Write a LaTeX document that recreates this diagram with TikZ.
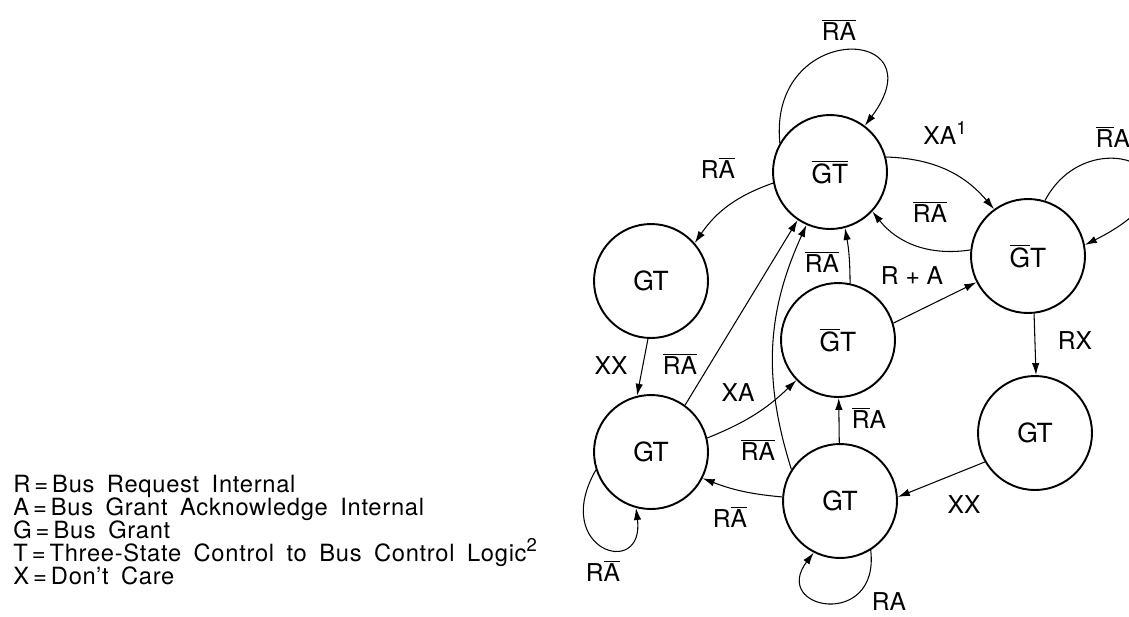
\documentclass[tikz,border=0pt]{standalone}
\usepackage{fontspec}
\setmainfont{TeX Gyre Heros}
\newfontfamily\keyfont[LetterSpace=3,WordSpace=1.7]{TeX Gyre Heros}
\usetikzlibrary{arrows.meta}

\newcommand{\nb}[1]{$\overline{\mbox{#1}}$}
\newcommand{\upnum}[1]{\raisebox{0.42em}{\fontsize{10.5}{10.5}\selectfont #1}}

\tikzset{
  state/.style={circle,draw,line width=1.1pt,minimum size=2.28cm,inner sep=0pt,
    font=\fontsize{15}{18}\selectfont},
  trans/.style={line width=0.6pt,-{Latex[length=2.4mm,width=1.5mm]}},
  lbl/.style={inner sep=0pt,font=\fontsize{14}{17}\selectfont},
  legend/.style={anchor=base west,inner sep=0pt,font=\keyfont\fontsize{13.5}{16}\selectfont}
}

\begin{document}
\begin{tikzpicture}[x=0.02cm,y=-0.02cm]
\useasboundingbox (0,0) rectangle (1129,616);
\clip (0,0) rectangle (1129,616);

% states
\node[state] (S0) at (830,172) {\nb{G}\nb{T}};
\node[state] (S1) at (651,281) {GT};
\node[state] (S2) at (838,340) {\nb{G}T};
\node[state] (S3) at (1028,256) {\nb{G}T};
\node[state] (S4) at (1035,433) {GT};
\node[state] (S5) at (651,452) {GT};
\node[state] (S6) at (840,501) {GT};

% transitions
\draw[trans] (S0.150) .. controls (768,20) and (940,25) .. (S0.53);
\draw[trans] (S0.191) to[bend right=18] (S1.41);
\draw[trans] (S0.15) to[bend left=24] (S3.126);
\draw[trans] (S3.174) to[bend left=30] (S0.-43);
\draw[trans] (S3.73) .. controls (1090,115) and (1225,175) .. (S3.11);
\draw[trans] (S3.-84) -- (S4.89);
\draw[trans] (S4.210) -- (S6.4);
\draw[trans] (S6.176) to[bend left=8] (S5.-27);
\draw[trans] (S6.-58) .. controls (880,630) and (770,610) .. (S6.-117);
\draw[trans] (S5.198) .. controls (550,550) and (645,580) .. (S5.-105);
\draw[trans] (S6) -- (S2);
\draw[trans] (S6.147) to[bend left=21] (S0.-114);
\draw[trans] (S5.54) -- (S0.-124);
\draw[trans] (S5.14) to[bend right=11] (S2.224);
\draw[trans] (S1.-93) -- (S5.104);
\draw[trans] (S2.78) to[bend right=5] (S0.-75);
\draw[trans] (S2.17) -- (S3.207);

% transition labels
\node[lbl] (l01) at (839,30) {\nb{R}\nb{A}};
\node[lbl] (l02) at (718,168) {R\nb{A}};
\node[lbl] (l03) at (945,133) {XA\upnum{1}};
\node[lbl] (l04) at (930,212) {\nb{R}\nb{A}};
\node[lbl] (l05) at (1113,137) {\nb{R}A};
\node[lbl] (l06) at (912,276) {R + A};
\node[lbl] (l07) at (1075,341) {RX};
\node[lbl] (l08) at (964,505) {XX};
\node[lbl] (l09) at (611,366) {XX};
\node[lbl] (l10) at (680,364) {\nb{R}\nb{A}};
\node[lbl] (l11) at (822,262) {\nb{R}\nb{A}};
\node[lbl] (l12) at (738,393) {XA};
\node[lbl] (l13) at (869,418) {\nb{R}A};
\node[lbl] (l14) at (758,450) {\nb{R}\nb{A}};
\node[lbl] (l15) at (730,517) {R\nb{A}};
\node[lbl] (l16) at (603,571) {R\nb{A}};
\node[lbl] (l17) at (889,602) {RA};

% key
\node[legend] (k1) at (13,492) {R\,=\,Bus Request Internal};
\node[legend] (k2) at (13,515) {A\,=\,Bus Grant Acknowledge Internal};
\node[legend] (k3) at (13,538) {G\,=\,Bus Grant};
\node[legend] (k4) at (13,561) {T\,=\,Three-State Control to Bus Control Logic\upnum{2}};
\node[legend] (k5) at (13,584) {X\,=\,Don’t Care};
\end{tikzpicture}
\end{document}
